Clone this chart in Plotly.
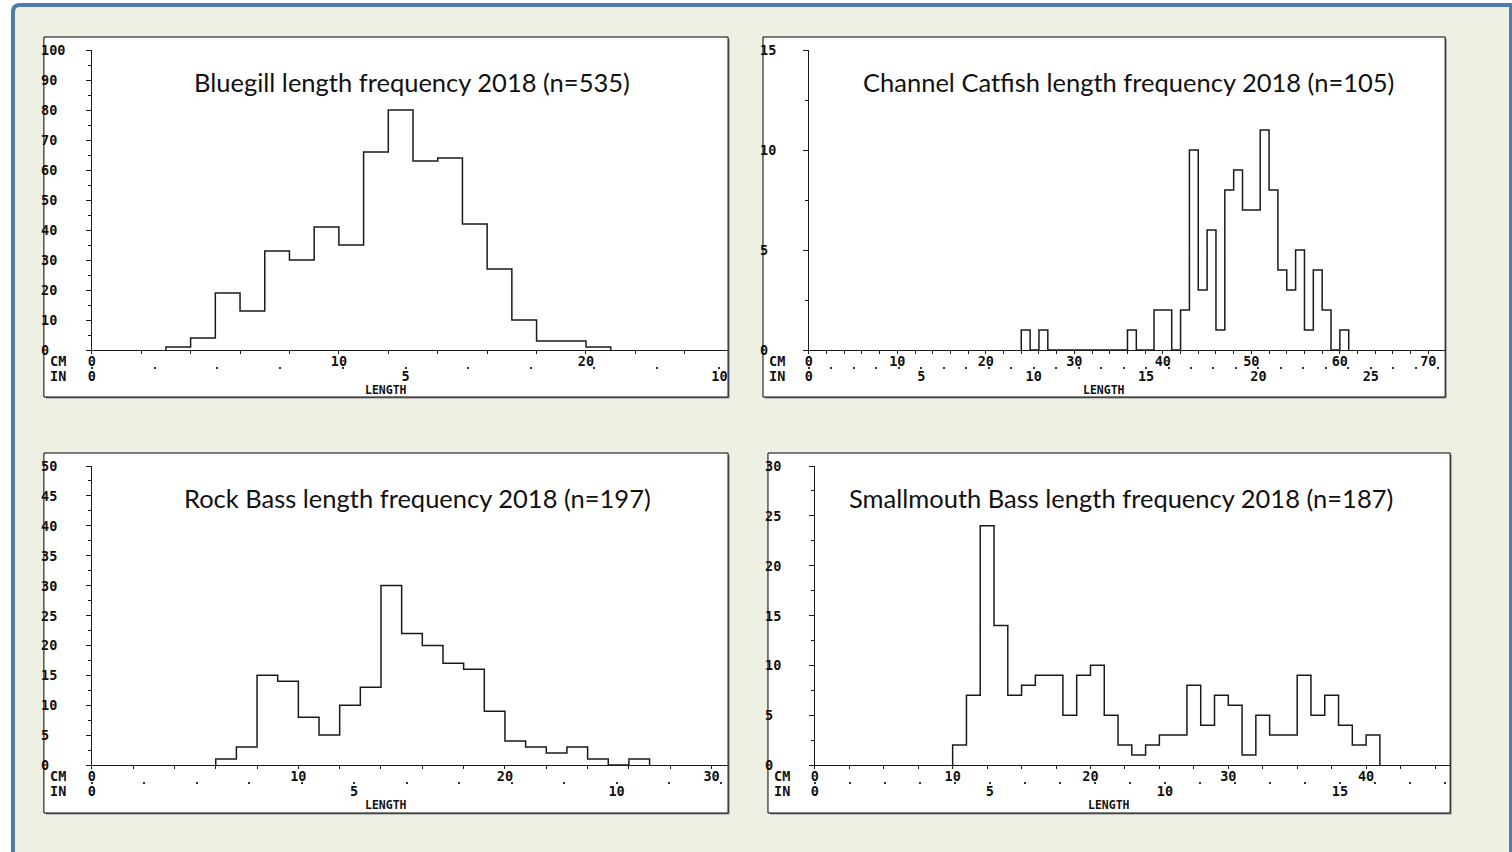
import plotly.graph_objects as go

W, H = 1512, 852

# ---------------- data ----------------
BIN_CM = 1

bluegill_cm = [3, 4, 5, 6, 7, 8, 9, 10, 11, 12, 13, 14, 15, 16, 17, 18, 19, 20]
bluegill_n = [1, 4, 19, 13, 33, 30, 41, 35, 66, 80, 63, 64, 42, 27, 10, 3, 3, 1]

catfish_cm = [24, 25, 26, 27, 28, 29, 30, 31, 32, 33, 34, 35, 36, 37, 38, 39, 40,
              41, 42, 43, 44, 45, 46, 47, 48, 49, 50, 51, 52, 53, 54, 55, 56, 57,
              58, 59, 60]
catfish_n = [1, 0, 1, 0, 0, 0, 0, 0, 0, 0, 0, 0, 1, 0, 0, 2, 2,
             0, 2, 10, 3, 6, 1, 8, 9, 7, 7, 11, 8, 4, 3, 5, 1, 4,
             2, 0, 1]

rockbass_cm = [6, 7, 8, 9, 10, 11, 12, 13, 14, 15, 16, 17, 18, 19, 20, 21, 22,
               23, 24, 25, 26]
rockbass_n = [1, 3, 15, 14, 8, 5, 10, 13, 30, 22, 20, 17, 16, 9, 4, 3, 2,
              3, 1, 0, 1]

smallmouth_cm = [10, 11, 12, 13, 14, 15, 16, 17, 18, 19, 20, 21, 22, 23, 24, 25,
                 26, 27, 28, 29, 30, 31, 32, 33, 34, 35, 36, 37, 38, 39, 40]
smallmouth_n = [2, 7, 24, 14, 7, 8, 9, 9, 5, 9, 10, 5, 2, 1, 2, 3,
                3, 8, 4, 7, 6, 1, 5, 3, 3, 9, 5, 7, 4, 2, 3]

titles = [
    "Bluegill length frequency 2018 (n=535)",
    "Channel Catfish length frequency 2018 (n=105)",
    "Rock Bass length frequency 2018 (n=197)",
    "Smallmouth Bass length frequency 2018 (n=187)",
]

bluegill_yticks = [0, 10, 20, 30, 40, 50, 60, 70, 80, 90, 100]
catfish_yticks = [0, 5, 10, 15]
rockbass_yticks = [0, 5, 10, 15, 20, 25, 30, 35, 40, 45, 50]
smallmouth_yticks = [0, 5, 10, 15, 20, 25, 30]

bluegill_cm_labels = [0, 10, 20]
catfish_cm_labels = [0, 10, 20, 30, 40, 50, 60, 70]
rockbass_cm_labels = [0, 10, 20, 30]
smallmouth_cm_labels = [0, 10, 20, 30, 40]

bluegill_in_labels = [0, 5, 10]
catfish_in_labels = [0, 5, 10, 15, 20, 25]
rockbass_in_labels = [0, 5, 10]
smallmouth_in_labels = [0, 5, 10, 15]

species = [
    (bluegill_cm, bluegill_n, bluegill_yticks, bluegill_cm_labels, bluegill_in_labels),
    (catfish_cm, catfish_n, catfish_yticks, catfish_cm_labels, catfish_in_labels),
    (rockbass_cm, rockbass_n, rockbass_yticks, rockbass_cm_labels, rockbass_in_labels),
    (smallmouth_cm, smallmouth_n, smallmouth_yticks, smallmouth_cm_labels, smallmouth_in_labels),
]

# ---------------- layout geometry (pixels) ----------------
panels = [
    dict(box=(40, 37, 726, 397), x0=88, ybase=350, ytop=50, xmax=25.75, yminor=5, xminor=2, title_x=409, title_y=82),
    dict(box=(761, 37, 1445, 397), x0=807, ybase=350, ytop=50, xmax=71.9, yminor=2.5, xminor=2, title_x=1127, title_y=82),
    dict(box=(40, 453, 726, 813), x0=88, ybase=765, ytop=466, xmax=30.8, yminor=2.5, xminor=2, title_x=415, title_y=498),
    dict(box=(766, 453, 1450, 813), x0=813, ybase=765, ytop=466, xmax=46.1, yminor=2.5, xminor=2.5, title_x=1120, title_y=498),
]


def px(x):
    return x / W


def py(y):
    return 1 - y / H


MONO = dict(family="DejaVu Sans Mono", size=13.5, color="#111111", weight="bold")
LINE = "#1a1a1a"

fig = go.Figure()
shapes = []
annotations = []

# outer frame
shapes.append(dict(
    type="path", xref="paper", yref="paper", layer="below",
    path=(f"M {px(9)},{py(860)} L {px(9)},{py(12)} Q {px(9)},{py(5)} {px(16)},{py(5)} "
          f"L {px(1511)},{py(5)} L {px(1511)},{py(860)} Z"),
    fillcolor="#EDF0E2", line=dict(color="#4F7AAA", width=4),
))

layout_axes = {}
for i, (p, (cm, n, yticks, cmlab, inlab)) in enumerate(zip(panels, species), start=1):
    bx0, by0, bx1, by1 = p["box"]
    # shadow + white box
    shapes.append(dict(type="rect", xref="paper", yref="paper", layer="below",
                       x0=px(bx0 + 2), x1=px(bx1 + 1.5), y0=py(by1 + 1.5), y1=py(by0 + 2),
                       fillcolor="#8a8a8a", line=dict(width=0)))
    shapes.append(dict(type="rect", xref="paper", yref="paper", layer="below",
                       x0=px(bx0), x1=px(bx1), y0=py(by1), y1=py(by0),
                       fillcolor="white", line=dict(color="#000000", width=1)))

    xs = [cm[0]] + cm + [cm[-1] + BIN_CM]
    ys = [0] + n + [0]
    xa = "x" if i == 1 else f"x{i}"
    ya = "y" if i == 1 else f"y{i}"
    fig.add_trace(go.Scatter(x=xs, y=ys, mode="lines", line=dict(shape="hv", color=LINE, width=1.5),
                             xaxis=xa, yaxis=ya, hoverinfo="skip", showlegend=False))
    # invisible trace so the inch axis is drawn
    fig.add_trace(go.Scatter(x=inlab, y=[0] * len(inlab), mode="markers", marker=dict(opacity=0),
                             xaxis=f"x{i + 4}", yaxis=ya, hoverinfo="skip", showlegend=False))

    ymax = yticks[-1]
    xkey = "xaxis" if i == 1 else f"xaxis{i}"
    ykey = "yaxis" if i == 1 else f"yaxis{i}"
    layout_axes[xkey] = dict(
        domain=[px(p["x0"]), px(bx1)], anchor=ya, range=[0, p["xmax"]],
        showline=True, linecolor=LINE, linewidth=1, showgrid=False, zeroline=False,
        ticks="outside", ticklen=3, tickcolor=LINE, tickwidth=1,
        tickvals=cmlab, ticktext=[str(v) for v in cmlab], tickfont=MONO,
        minor=dict(dtick=p["xminor"], tick0=0, ticks="outside", ticklen=3, tickcolor=LINE, showgrid=False),
        ticklabelstandoff=-4, fixedrange=True,
    )
    layout_axes[ykey] = dict(
        domain=[py(p["ybase"]), py(p["ytop"])], anchor=xa, range=[0, ymax],
        showline=True, linecolor=LINE, linewidth=1, showgrid=False, zeroline=False,
        ticks="outside", ticklen=5, tickcolor=LINE, tickwidth=1,
        tickvals=yticks, showticklabels=False,
        minor=dict(dtick=p["yminor"], tick0=0, ticks="outside", ticklen=3, tickcolor=LINE, showgrid=False),
        fixedrange=True,
    )
    # inch axis
    ikey = f"xaxis{i + 4}"
    layout_axes[ikey] = dict(
        overlaying=xa, anchor="free", position=py(p["ybase"] + 16), range=[0, p["xmax"] / 2.54],
        showline=False, showgrid=False, zeroline=False,
        ticks="outside", ticklen=2, tickcolor="#333333", tickwidth=1.5,
        tickvals=inlab, ticktext=[str(v) for v in inlab], tickfont=MONO,
        minor=dict(dtick=1, tick0=0, ticks="outside", ticklen=2, tickcolor="#333333", tickwidth=1.5, showgrid=False),
        ticklabelstandoff=-4, fixedrange=True,
    )

    # y tick labels (left-aligned at the box edge)
    for v in yticks:
        annotations.append(dict(xref="paper", yref=ya, x=px(bx0 - 5), y=v, text=str(v),
                                showarrow=False, xanchor="left", yanchor="middle", font=MONO))
    annotations.append(dict(xref="paper", yref="paper", x=px(bx0 + 4), y=py(p["ybase"] + 11),
                            text="CM", showarrow=False, xanchor="left", yanchor="middle", font=MONO))
    annotations.append(dict(xref="paper", yref="paper", x=px(bx0 + 4), y=py(p["ybase"] + 26),
                            text="IN", showarrow=False, xanchor="left", yanchor="middle", font=MONO))
    annotations.append(dict(xref="paper", yref="paper", x=px((bx0 + bx1) / 2), y=py(p["ybase"] + 40),
                            text="LENGTH", showarrow=False, xanchor="center", yanchor="middle",
                            borderpad=0,
                            font=dict(family="DejaVu Sans Mono", size=11.5, color="#111111", weight="bold")))
    annotations.append(dict(xref="paper", yref="paper", x=px(p["title_x"]), y=py(p["title_y"]),
                            text=titles[i - 1], showarrow=False, xanchor="center", yanchor="middle",
                            font=dict(family="Lato", size=25.5, color="#111111")))

fig.update_layout(
    width=W, height=H, autosize=False,
    margin=dict(l=0, r=0, t=0, b=0),
    paper_bgcolor="white", plot_bgcolor="rgba(0,0,0,0)",
    shapes=shapes, annotations=annotations, showlegend=False,
    **layout_axes,
)

fig.write_html("out.html", config={"displayModeBar": False},
               post_script="document.body.style.margin='0px';document.body.style.overflow='hidden';")
